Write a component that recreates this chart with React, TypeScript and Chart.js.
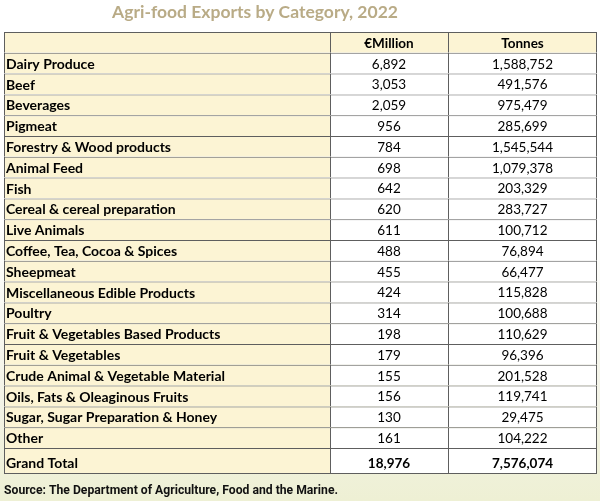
import React, { useEffect, useRef } from "react";
import { Chart, registerables } from "chart.js";

Chart.register(...registerables);

const title = "Agri-food Exports by Category, 2022";
const source = "Source: The Department of Agriculture, Food and the Marine.";
const headers = ["", "€Million", "Tonnes"];
const categories = [
  "Dairy Produce",
  "Beef",
  "Beverages",
  "Pigmeat",
  "Forestry & Wood products",
  "Animal Feed",
  "Fish",
  "Cereal & cereal preparation",
  "Live Animals",
  "Coffee, Tea, Cocoa & Spices",
  "Sheepmeat",
  "Miscellaneous Edible Products",
  "Poultry",
  "Fruit & Vegetables Based Products",
  "Fruit & Vegetables",
  "Crude Animal & Vegetable Material",
  "Oils, Fats & Oleaginous Fruits",
  "Sugar, Sugar Preparation & Honey",
  "Other",
];
const millions = [6892, 3053, 2059, 956, 784, 698, 642, 620, 611, 488, 455, 424, 314, 198, 179, 155, 156, 130, 161];
const tonnes = [1588752, 491576, 975479, 285699, 1545544, 1079378, 203329, 283727, 100712, 76894, 66477, 115828, 100688, 110629, 96396, 201528, 119741, 29475, 104222];
const totalLabel = "Grand Total";
const totalMillions = 18976;
const totalTonnes = 7576074;

// ---- layout (not data) ----
const COL_WIDTHS = [326, 118, 149];
const TABLE_LEFT = 4;
const YELLOW = "#fcf4d4";
const LINE = "#5e5e5e";
// row slots in "row units": header 0, categories 1..19, total 20,
// plus an invisible spacer slot that makes the total row 1.25 units tall (flex thickness)
const TOTAL_POS = categories.length + 1;
const SPACER_POS = categories.length + 2.5;

const rowLabels = ["", ...categories, totalLabel];
const lastRow = rowLabels.length - 1;
const rowPos = [...rowLabels.map((_, i) => i), SPACER_POS];
rowPos[lastRow] = TOTAL_POS;

const fmt = (n: number) => n.toLocaleString("en-US");
const CAT_FONT = "bold 14px Lato, 'DejaVu Sans', sans-serif";
const BOLD_FONT = "bold 13.5px Lato, 'DejaVu Sans', sans-serif";
const NUM_FONT = "13.5px Lato, 'DejaVu Sans', sans-serif";

const bgPlugin = {
  id: "bg",
  beforeDraw(chart: any) {
    const { ctx, width, height } = chart;
    ctx.save();
    const g = ctx.createLinearGradient(0, 0, 0, height);
    g.addColorStop(0, "#ffffff");
    g.addColorStop(0.45, "#ffffff");
    g.addColorStop(0.8, "#f3f3e6");
    g.addColorStop(1, "#eef0d4");
    ctx.fillStyle = g;
    ctx.fillRect(0, 0, width, height);
    ctx.restore();
  },
};

const textPlugin = {
  id: "tableText",
  afterDatasetsDraw(chart: any) {
    const ctx = chart.ctx;
    ctx.save();
    ctx.textBaseline = "middle";
    rowLabels.forEach((label, j) => {
      const cells = [0, 1, 2].map((d) => chart.getDatasetMeta(d).data[j] as any);
      const isHeader = j === 0;
      const isTotal = j === lastRow;
      const dy = isTotal ? 2.5 : 1;
      const c0 = cells[0];
      const left0 = Math.min(c0.x, c0.base);
      ctx.fillStyle = "#000";
      ctx.textAlign = "left";
      ctx.font = CAT_FONT;
      if (label) ctx.fillText(label, left0 + 2, c0.y + dy);
      const texts = isHeader
        ? [headers[1], headers[2]]
        : isTotal
        ? [fmt(totalMillions), fmt(totalTonnes)]
        : [fmt(millions[j - 1]), fmt(tonnes[j - 1])];
      ctx.textAlign = "center";
      ctx.font = isHeader || isTotal ? BOLD_FONT : NUM_FONT;
      [1, 2].forEach((k, i) => {
        const c = cells[k];
        ctx.fillText(texts[i], (c.x + c.base) / 2, c.y + dy);
      });
    });
    ctx.textAlign = "center";
    ctx.fillStyle = "#b9ab86";
    ctx.font = "bold 17.5px Lato, 'DejaVu Sans', sans-serif";
    ctx.fillText(title, 255, 12);
    ctx.textAlign = "left";
    ctx.fillStyle = "#111";
    ctx.font = "bold 13px 'Liberation Sans Narrow', Roboto, sans-serif";
    ctx.fillText(source, 4, 491, 334);
    ctx.restore();
  },
};

export default function App() {
  const ref = useRef<HTMLCanvasElement>(null);
  useEffect(() => {
    if (!ref.current) return;
    const colNames = ["Category", "€Million", "Tonnes"];
    const isSpacer = (ctx: any) => ctx.dataIndex > lastRow;
    const chart = new Chart(ref.current, {
      type: "bar",
      data: {
        datasets: COL_WIDTHS.map((w, k) => ({
          label: colNames[k],
          data: rowPos.map((p) => ({ x: w, y: p })),
          backgroundColor: (ctx: any) =>
            isSpacer(ctx) ? "rgba(0,0,0,0)" : k === 0 || ctx.dataIndex === 0 ? YELLOW : "#ffffff",
          borderColor: LINE,
          borderWidth: (ctx: any) =>
            isSpacer(ctx)
              ? 0
              : {
                  top: 1,
                  left: 1,
                  right: k === 2 ? 1 : 0,
                  bottom: ctx.dataIndex === lastRow ? 1 : 0,
                },
          borderSkipped: false,
          inflateAmount: 0,
          barThickness: "flex",
          barPercentage: 1,
          categoryPercentage: 1,
        })),
      },
      options: {
        indexAxis: "y",
        animation: false,
        responsive: false,
        maintainAspectRatio: false,
        layout: { padding: { top: 32, bottom: 27, left: 0, right: 0 } },
        scales: {
          x: { type: "linear", stacked: true, min: -TABLE_LEFT, max: 600 - TABLE_LEFT, display: false },
          y: {
            type: "linear",
            stacked: true,
            reverse: true,
            offset: false,
            grid: { offset: false },
            min: -0.5,
            max: TOTAL_POS + 0.75,
            display: false,
          },
        },
        plugins: {
          legend: { display: false },
          tooltip: { enabled: false },
          title: { display: false },
        },
      } as any,
      plugins: [bgPlugin, textPlugin],
    });
    return () => chart.destroy();
  }, []);
  return (
    <div style={{ position: "fixed", left: 0, top: 0, width: 600, height: 501 }}>
      <canvas ref={ref} width={600} height={501} style={{ display: "block" }} />
    </div>
  );
}
